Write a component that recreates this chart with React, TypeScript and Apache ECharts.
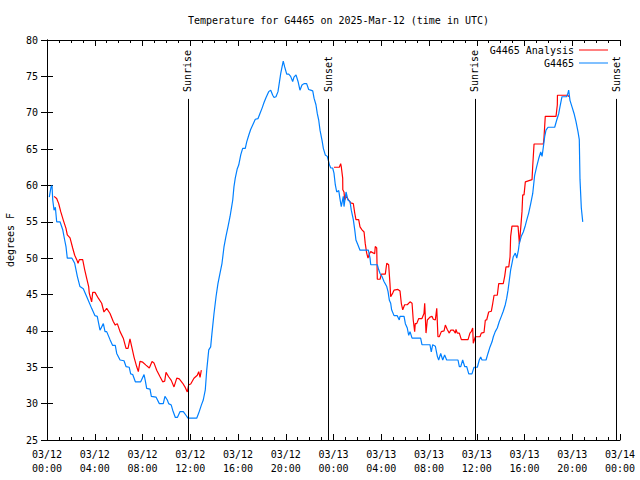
import React, { useEffect, useRef } from 'react';
import * as echarts from 'echarts';

const FONT = 'DejaVu Sans Mono';

const titleText = 'Temperature for G4465 on 2025-Mar-12 (time in UTC)';
const yName = 'degrees F';
const nameAnalysis = 'G4465 Analysis';
const nameObs = 'G4465';

// hours since 03/12 00:00 UTC, temperature (°F)
const obsData: [number, number][] = [
  [0.19,58.4],[0.34,59.8],[0.42,60],[0.48,58],[0.59,56.6],[0.70,57],[0.81,55],[1.09,55],[1.32,53.9],[1.48,52.5],
  [1.59,51.6],[1.70,50],[2.09,50],[2.32,49.3],[2.54,47.5],[2.76,46.1],[3.04,45.8],[3.33,44.7],[3.74,43.1],[4.02,42.1],
  [4.21,42],[4.44,40.1],[4.72,41],[4.86,39.9],[5.00,39.9],[5.28,38.8],[5.50,38],[5.72,38],[5.84,36.9],[6.12,36],
  [6.45,35.9],[6.62,35.1],[6.89,35],[7.01,34.1],[7.18,34],[7.40,33],[7.85,33],[8.13,34],[8.23,33.2],[8.35,32.1],
  [8.63,32],[8.74,31],[9.13,30.9],[9.41,30],[9.74,30],[9.88,31],[10.08,30.5],[10.19,30],[10.41,29.8],[10.53,29.1],
  [10.75,28.1],[10.92,28.1],[11.14,28.9],[11.42,28.9],[11.64,28.4],[11.81,28],[12.54,28],[12.71,28.7],[12.93,29.8],[13.09,30.5],
  [13.26,31.9],[13.38,34.6],[13.55,37.4],[13.71,37.8],[13.82,39.7],[13.99,42.4],[14.16,44.7],[14.32,46.5],[14.49,47.9],[14.66,49.3],
  [14.83,51.6],[14.99,53],[15.16,54.3],[15.33,55.7],[15.47,57.1],[15.56,58],[15.66,59.8],[15.77,61],[15.94,62.3],[16.06,62.8],
  [16.23,64.2],[16.39,65.1],[16.61,65.1],[16.73,66],[16.90,66.9],[17.06,67.7],[17.28,68.5],[17.45,69.1],[17.68,69.2],[17.84,69.9],
  [18.01,70.6],[18.18,71.4],[18.35,72.1],[18.57,72.9],[18.74,73.1],[18.91,72.4],[19.02,72.1],[19.18,72.2],[19.35,72.9],[19.58,75.4],
  [19.69,76.3],[19.79,77.1],[19.91,76.3],[20.08,75.3],[20.25,75.3],[20.41,75],[20.58,74.3],[20.69,74.9],[20.86,75.2],[21.03,74.3],
  [21.19,73.1],[21.36,73.8],[21.53,74],[21.75,74],[21.92,73.2],[22.09,73.1],[22.26,73],[22.37,72],[22.53,71.1],[22.64,69.9],
  [22.76,69],[22.87,67.6],[23.04,66.2],[23.15,65.1],[23.31,64.2],[23.48,64],[23.65,62.9],[23.77,62.4],[23.93,62.4],[24.04,61.7],
  [24.15,60.1],[24.27,59.1],[24.44,59.3],[24.54,58.2],[24.65,57.1],[24.82,58.5],[24.88,57.1],[25.05,59.1],[25.21,58],[25.38,57.8],
  [25.49,56.6],[25.66,55.3],[25.78,53.9],[25.88,52.5],[26.05,51.8],[26.22,51.1],[26.92,51.1],[27.06,50],[27.12,49.1],[27.67,49.1],
  [27.79,48.4],[27.90,47.9],[28.06,47.5],[28.23,46.8],[28.46,46.1],[28.57,45.4],[28.68,44.2],[28.79,43.8],[28.87,42.9],[29.07,42.1],
  [29.34,42.1],[29.51,41.5],[29.57,42],[29.91,42],[30.02,41],[30.18,40.4],[30.30,39.4],[30.41,39.9],[30.58,39],[31.30,39],
  [31.41,38.1],[32.08,38.1],[32.19,37.1],[32.31,38.1],[32.53,37.9],[32.70,36.5],[32.81,36],[32.98,36.9],[33.15,36],[33.31,36.7],
  [33.48,36],[34.43,36],[34.54,35.1],[34.66,35.1],[34.82,36],[34.99,35.1],[35.16,35.1],[35.33,34.1],[35.60,34.1],[35.77,35],
  [36.05,35],[36.21,36],[36.33,36.4],[36.44,36],[36.78,36],[36.94,36.9],[37.11,37.8],[37.28,38.5],[37.39,39.2],[37.55,39.9],
  [37.72,40.4],[37.89,41.3],[38.06,42],[38.22,42.7],[38.39,43.6],[38.51,44.5],[38.62,45.6],[38.73,47],[38.84,48.4],[38.95,49.3],
  [39.06,50.2],[39.23,50.7],[39.35,50],[39.49,51.1],[39.56,52],[39.73,53],[39.90,53.6],[40.07,54.5],[40.18,55.2],[40.35,56.2],
  [40.52,57.5],[40.69,58.9],[40.85,61.4],[41.02,62.6],[41.19,63.7],[41.36,64.6],[41.47,64],[41.58,65.3],[41.69,66.7],[41.80,67.6],
  [41.97,68],[42.53,68],[42.70,69],[42.87,69.9],[42.97,70.8],[43.14,72.2],[43.53,72.2],[43.64,72.7],[43.70,73.1],[43.81,71.7],
  [43.98,70.8],[44.15,69.9],[44.31,68.8],[44.48,67.4],[44.59,66.3],[44.65,60.8],[44.76,56.9],[44.88,55],
];

// analysis, first night (before gap)
const anaDataA: [number, number][] = [
  [0.59,58.5],[0.81,58.2],[0.98,57.5],[1.15,56.4],[1.37,55.2],[1.59,54.1],[1.70,53.2],[1.93,52.8],[2.15,51.4],[2.32,50.4],
  [2.49,49.8],[2.60,49.3],[2.71,49.8],[2.99,49.8],[3.16,48.4],[3.33,47.2],[3.49,46.1],[3.54,45.2],[3.74,44],[3.83,45.3],
  [4.02,45.3],[4.30,44.5],[4.58,43.8],[4.77,42.6],[5.00,43.1],[5.28,42.4],[5.55,41.3],[5.72,40.8],[5.89,41],[6.12,39.9],
  [6.39,39],[6.62,37.6],[6.79,37.6],[6.95,38.9],[7.10,37.8],[7.29,36.4],[7.51,35.1],[7.65,34.4],[7.79,35.8],[8.02,35.7],
  [8.29,35.3],[8.57,34.9],[8.80,35.8],[8.96,35.6],[9.19,34.6],[9.47,33.7],[9.69,33],[9.86,33.1],[9.97,34.3],[10.19,33.7],
  [10.41,33.2],[10.64,32.3],[10.87,33.5],[11.08,33.4],[11.37,32.8],[11.59,32.2],[11.75,31.6],[11.87,32.6],[12.04,32.7],[12.31,33.5],
  [12.59,33.9],[12.71,34.4],[12.82,33.6],[12.93,34.6],
];

// analysis, second night (after gap)
const anaDataB: [number, number][] = [
  [24.04,62.5],[24.49,62.5],[24.60,63],[24.65,62.6],[24.77,61],[24.78,59.4],[24.88,59.1],[24.94,58],[25.05,58.5],[25.27,58],
  [25.44,57.6],[25.66,57.5],[25.78,56.2],[25.88,55.3],[26.11,55.3],[26.22,54.3],[26.39,53.9],[26.56,53.6],[26.66,52],[26.78,50.7],
  [26.89,50],[27.00,50.6],[27.12,50.9],[27.45,50.6],[27.50,51.6],[27.62,51.4],[27.67,47.1],[27.90,47.1],[28.01,47.8],[28.34,47.8],
  [28.46,49.3],[28.62,49.1],[28.73,46.5],[28.79,44.7],[28.96,45.2],[29.07,45.6],[29.40,45.7],[29.57,45.5],[29.68,43.8],[29.80,42.9],
  [29.96,43.6],[30.18,43.6],[30.41,44],[30.58,43.8],[30.68,41.5],[30.80,39.9],[30.85,41],[30.97,41],[31.14,41.7],[31.41,41.7],
  [31.58,42.4],[31.64,43.8],[31.69,42],[31.75,39.7],[31.86,41.5],[32.08,41.9],[32.25,42],[32.36,41.6],[32.53,41.5],[32.65,43.1],
  [32.75,39.2],[32.86,39.2],[33.03,39.9],[33.26,40],[33.37,40.8],[33.53,40.2],[33.70,39.7],[33.82,40.1],[34.04,40.1],[34.21,39.7],
  [34.26,40.2],[34.37,39.7],[34.54,39.7],[34.71,38.8],[35.27,38.8],[35.43,39.7],[35.54,39.9],[35.66,40.4],[35.71,38.3],[35.88,39.2],
  [36.27,39.2],[36.38,39.7],[36.61,39.8],[36.72,41.5],[36.83,41.5],[37.00,42.6],[37.22,42.7],[37.34,43.8],[37.45,44.9],[37.72,44.9],
  [37.84,46.5],[38.22,46.5],[38.34,47.5],[38.45,48.8],[38.68,48.8],[38.79,50.2],[38.84,53],[38.95,54.4],[39.46,54.4],[39.57,52],
  [39.69,54.3],[39.79,56.4],[39.85,58.7],[39.96,58.7],[40.07,60.5],[40.63,60.8],[40.69,62.7],[40.80,65.7],[41.58,65.7],[41.63,66.5],
  [41.74,69.5],[42.64,69.5],[42.75,71.1],[42.76,72.4],[43.64,72.4],[43.70,72.2],
];

const eventNames = ['Sunrise', 'Sunset', 'Sunrise', 'Sunset'];
const eventHours = [11.81, 23.54, 35.85, 47.71];
const eventLineTop = 71.9;
const eventLabelBase = 72.85;

const xMin = 0;
const xMax = 48;
const xStep = 4;
const yMin = 25;
const yMax = 80;
const yStep = 5;

const fmtX = (v: number) => {
  const day = 12 + Math.floor(v / 24);
  const hh = Math.round(v % 24);
  return `03/${day}\n${String(hh).padStart(2, '0')}:00`;
};

const textBase = { fontFamily: FONT, fontSize: 10, color: '#000' };

function buildOption() {
  const anaData: (number | string)[][] = [...anaDataA, [18, '-'], ...anaDataB];
  const axisLineStyle = { show: true, lineStyle: { color: '#000', width: 1 } };
  const xCommon = {
    type: 'value' as const,
    min: xMin,
    max: xMax,
    interval: xStep,
    axisLine: axisLineStyle,
    axisTick: { show: true, inside: true, length: 6, lineStyle: { color: '#000' } },
    minorTick: { show: true, splitNumber: 4, length: 3, lineStyle: { color: '#000' } },
    splitLine: { show: false },
    minorSplitLine: { show: false },
  };
  const yCommon = {
    type: 'value' as const,
    min: yMin,
    max: yMax,
    interval: yStep,
    axisLine: axisLineStyle,
    axisTick: { show: true, inside: true, length: 6, lineStyle: { color: '#000' } },
    splitLine: { show: false },
  };

  const markData: any[] = [];
  eventHours.forEach((h, i) => {
    markData.push([
      { coord: [h, yMin], lineStyle: { color: '#000', width: 1, type: 'solid' }, label: { show: false } },
      { coord: [h, eventLineTop] },
    ]);
    markData.push([
      {
        coord: [h, eventLabelBase],
        lineStyle: { color: 'rgba(0,0,0,0)', width: 1 },
        label: { show: true, position: 'insideStart', distance: 0, formatter: eventNames[i], ...textBase },
      },
      { coord: [h, yMax] },
    ]);
  });

  const legendCommon = {
    orient: 'vertical' as const,
    align: 'right' as const,
    right: 27,
    icon: 'rect',
    itemWidth: 29,
    itemHeight: 1,
    selectedMode: false,
    textStyle: { ...textBase },
  };

  return {
    animation: false,
    backgroundColor: '#fff',
    title: {
      text: titleText,
      left: 183,
      top: 10,
      textStyle: { ...textBase, fontWeight: 'normal' },
    },
    legend: [
      { ...legendCommon, top: 40, data: [nameAnalysis] },
      { ...legendCommon, top: 53, data: [nameObs] },
    ],
    grid: { left: 47, right: 20, top: 40, bottom: 40, containLabel: false, outerBoundsMode: 'none' },
    xAxis: [
      {
        ...xCommon,
        position: 'bottom',
        axisLabel: { ...textBase, margin: 7, lineHeight: 14, formatter: fmtX },
      },
      { ...xCommon, position: 'top', axisLabel: { show: false } },
    ],
    yAxis: [
      {
        ...yCommon,
        position: 'left',
        name: yName,
        nameLocation: 'middle',
        nameRotate: 90,
        nameGap: 31,
        nameTextStyle: { ...textBase },
        axisLabel: { ...textBase, margin: 9 },
      },
      { ...yCommon, position: 'right', axisLabel: { show: false } },
    ],
    series: [
      {
        name: nameAnalysis,
        type: 'line',
        xAxisIndex: 0,
        yAxisIndex: 0,
        data: anaData,
        showSymbol: false,
        symbol: 'none',
        connectNulls: false,
        lineStyle: { color: '#ff0000', width: 1.2 },
        itemStyle: { color: '#ff0000' },
      },
      {
        name: nameObs,
        type: 'line',
        xAxisIndex: 0,
        yAxisIndex: 0,
        data: obsData,
        showSymbol: false,
        symbol: 'none',
        lineStyle: { color: '#0080ff', width: 1.2 },
        itemStyle: { color: '#0080ff' },
        markLine: {
          silent: true,
          symbol: ['none', 'none'],
          animation: false,
          data: markData,
        },
      },
    ],
  };
}

export default function App() {
  const ref = useRef<HTMLDivElement>(null);
  useEffect(() => {
    if (!ref.current) return;
    const chart = echarts.init(ref.current, null, { renderer: 'svg' });
    chart.setOption(buildOption() as any);
    return () => chart.dispose();
  }, []);
  return (
    <div
      ref={ref}
      style={{ position: 'fixed', left: 0, top: 0, width: 640, height: 480, background: '#fff' }}
    />
  );
}
